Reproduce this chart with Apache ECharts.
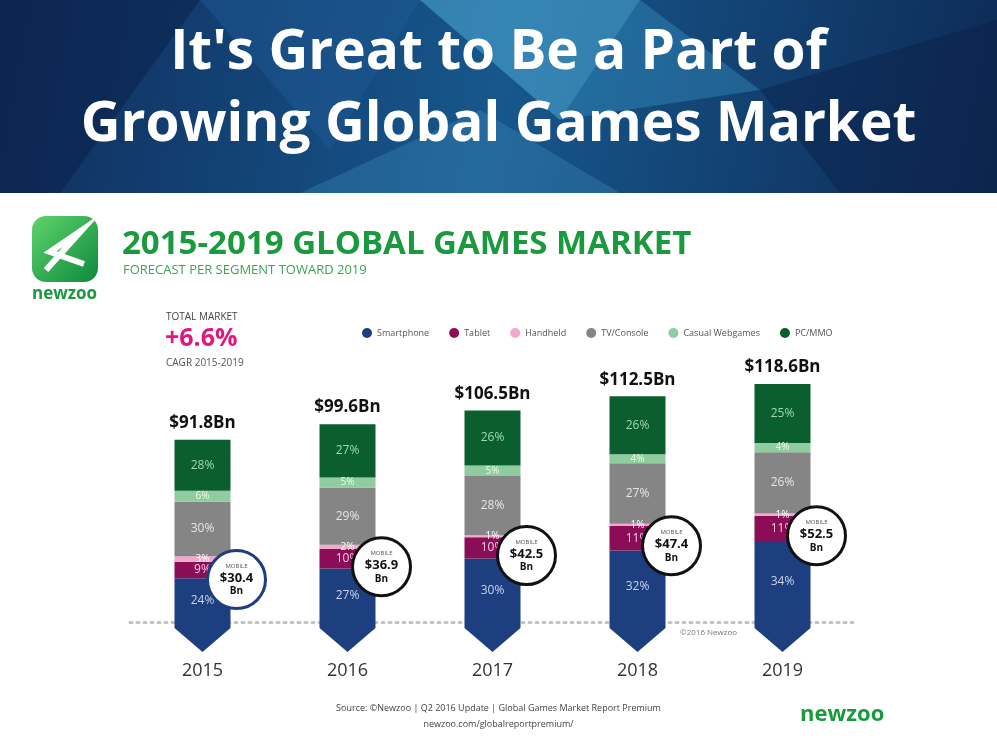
<!DOCTYPE html>
<html>
<head>
<meta charset="utf-8">
<script src="https://cdn.jsdelivr.net/npm/echarts@6/dist/echarts.min.js"></script>
<style>
  html, body { margin: 0; padding: 0; background: #fff; }
  #chart { width: 997px; height: 748px; }
</style>
</head>
<body>
<div id="chart"></div>
<script>
// values
const years = ['2015', '2016', '2017', '2018', '2019']
const totals = [91.8, 99.6, 106.5, 112.5, 118.6]
const mobile = [30.4, 36.9, 42.5, 47.4, 52.5]
const smartphonePct = [24, 27, 30, 32, 34]
const tabletPct = [9, 10, 10, 11, 11]
const handheldPct = [3, 2, 1, 1, 1]
const consolePct = [30, 29, 28, 27, 26]
const casualPct = [6, 5, 5, 4, 4]
const pcPct = [28, 27, 26, 26, 25]

const segments = [
  { name: 'Smartphone', pct: smartphonePct, color: '#1d3f7f', text: '#c9d3ea' },
  { name: 'Tablet', pct: tabletPct, color: '#8c0d57', text: '#f3c9df' },
  { name: 'Handheld', pct: handheldPct, color: '#f2a7cb', text: '#ffffff' },
  { name: 'TV/Console', pct: consolePct, color: '#858585', text: '#e6e6e6' },
  { name: 'Casual Webgames', pct: casualPct, color: '#8fcc9e', text: '#eefaf0' },
  { name: 'PC/MMO', pct: pcPct, color: '#0b5e2e', text: '#9fd9ae' }
]

const chart = echarts.init(document.getElementById('chart'))
const FONT = '"Open Sans", "Noto Sans", sans-serif'

const barSeries = segments.map((s, si) => ({
  name: s.name,
  type: 'bar',
  stack: 'total',
  barWidth: 56,
  itemStyle: { color: s.color },
  data: totals.map((t, i) => +(t * s.pct[i] / 100).toFixed(2)),
  label: {
    show: true,
    position: 'inside',
    color: s.text,
    fontFamily: FONT,
    fontSize: s.pct[0] <= 6 ? 10 : 12,
    formatter: p => s.pct[p.dataIndex] + '%'
  }
}))

// total labels above the stack
barSeries.push({
  name: 'totalLabel',
  type: 'bar',
  stack: 'total',
  barWidth: 56,
  itemStyle: { color: 'transparent' },
  data: totals.map(() => 0),
  label: {
    show: true,
    position: 'top',
    distance: 8,
    color: '#111',
    fontFamily: FONT,
    fontWeight: 'bold',
    fontSize: 17,
    formatter: p => '$' + totals[p.dataIndex] + 'Bn'
  }
})

const option = {
  animation: false,
  backgroundColor: '#fff',
  grid: { left: 130, right: 142, top: 324, bottom: 126 },
  legend: {
    data: segments.map(s => s.name),
    left: 357, top: 323,
    icon: 'circle', itemWidth: 10, itemHeight: 10, itemGap: 20,
    textStyle: { fontSize: 9, color: '#555', fontFamily: FONT }
  },
  xAxis: {
    type: 'category',
    data: years,
    axisTick: { show: false },
    axisLine: { lineStyle: { color: '#c4c4c4', type: [2, 5], width: 3 } },
    axisLabel: { margin: 40, fontSize: 18, color: '#333', fontFamily: FONT }
  },
  yAxis: { type: 'value', min: 0, max: 150, show: false, splitLine: { show: false } },
  series: barSeries.concat([
    {
      name: 'arrow',
      type: 'custom',
      z: 1,
      data: years.map((y, i) => [i, 0]),
      renderItem: (params, api) => {
        const p = api.coord([api.value(0), 0])
        const w = 28
        return {
          type: 'polygon',
          shape: { points: [[p[0] - w, p[1]], [p[0] + w, p[1]], [p[0] + w, p[1] + 6], [p[0], p[1] + 30], [p[0] - w, p[1] + 6]] },
          style: { fill: '#1d3f7f' }
        }
      }
    },
    {
      name: 'mobile',
      type: 'scatter',
      z: 5,
      symbol: 'circle',
      symbolSize: 58,
      symbolOffset: [34, 18],
      data: mobile.map((m, i) => ({
        value: [i, m],
        itemStyle: { borderColor: i === 0 ? '#1d3f7f' : '#111' }
      })),
      itemStyle: { color: '#fff', borderWidth: 3, opacity: 1 },
      label: {
        show: true,
        position: 'inside',
        fontFamily: FONT,
        formatter: p => '{s|MOBILE}\n{v|$' + mobile[p.dataIndex] + '}\n{b|Bn}',
        rich: {
          s: { fontSize: 6, color: '#555', lineHeight: 9 },
          v: { fontSize: 13, fontWeight: 'bold', color: '#111', lineHeight: 15 },
          b: { fontSize: 10, fontWeight: 'bold', color: '#111', lineHeight: 12 }
        }
      }
    }
  ]),
  graphic: [
    {
      type: 'rect', shape: { x: 0, y: 0, width: 997, height: 193 },
      style: { fill: new echarts.graphic.LinearGradient(0, 0, 1, 1, [
        { offset: 0, color: '#0f2d5c' }, { offset: 0.5, color: '#17578c' }, { offset: 1, color: '#0d2a55' }]) }
    },
    { type: 'polygon', shape: { points: [[420, 0], [640, 0], [560, 120]] }, style: { fill: 'rgba(90,190,230,0.45)' } },
    { type: 'polygon', shape: { points: [[560, 120], [640, 0], [760, 90]] }, style: { fill: 'rgba(60,160,210,0.35)' } },
    { type: 'polygon', shape: { points: [[0, 0], [200, 0], [60, 193], [0, 193]] }, style: { fill: 'rgba(10,30,70,0.5)' } },
    { type: 'polygon', shape: { points: [[760, 90], [997, 20], [997, 193], [840, 193]] }, style: { fill: 'rgba(10,30,70,0.45)' } },
    { type: 'polygon', shape: { points: [[300, 193], [480, 110], [620, 193]] }, style: { fill: 'rgba(70,150,200,0.3)' } },
    { type: 'polygon', shape: { points: [[200, 0], [420, 0], [330, 150]] }, style: { fill: 'rgba(30,90,150,0.45)' } },
    {
      type: 'text', left: 'center', top: 26,
      style: { text: "It's Great to Be a Part of", fill: '#fff', font: 'bold 55px "Open Sans", sans-serif' }
    },
    {
      type: 'text', left: 'center', top: 98,
      style: { text: 'Growing Global Games Market', fill: '#fff', font: 'bold 55px "Open Sans", sans-serif' }
    },
    // logo
    {
      type: 'rect', shape: { x: 32, y: 216, width: 66, height: 66, r: 14 },
      style: { fill: new echarts.graphic.LinearGradient(0, 0, 1, 1, [
        { offset: 0, color: '#5fd36c' }, { offset: 1, color: '#0d8a3c' }]) }
    },
    {
      type: 'polyline', shape: { points: [[46, 270], [82, 230], [50, 252], [84, 264]] },
      style: { stroke: '#fff', lineWidth: 6, fill: null }
    },
    { type: 'text', left: 32, top: 286, style: { text: 'newzoo', fill: '#1a9a3e', font: 'bold 17px "Open Sans", sans-serif' } },
    { type: 'text', left: 122, top: 228, style: { text: '2015-2019 GLOBAL GAMES MARKET', fill: '#1a9a3e', font: 'bold 33px "Open Sans", sans-serif' } },
    { type: 'text', left: 123, top: 264, style: { text: 'FORECAST PER SEGMENT TOWARD 2019', fill: '#3aa552', font: '13px "Open Sans", sans-serif' } },
    { type: 'text', left: 166, top: 312, style: { text: 'TOTAL MARKET', fill: '#444', font: '10px "Open Sans", sans-serif' } },
    { type: 'text', left: 165, top: 326, style: { text: '+6.6%', fill: '#e0177f', font: 'bold 25px "Open Sans", sans-serif' } },
    { type: 'text', left: 166, top: 358, style: { text: 'CAGR 2015-2019', fill: '#555', font: '10px "Open Sans", sans-serif' } },
    { type: 'text', left: 680, top: 629, style: { text: '©2016 Newzoo', fill: '#777', font: '8px "Open Sans", sans-serif' } },
    {
      type: 'text', left: 'center', top: 704,
      style: { text: 'Source: ©Newzoo | Q2 2016 Update | Global Games Market Report Premium', fill: '#444', font: '9px "Open Sans", sans-serif' }
    },
    {
      type: 'text', left: 'center', top: 720,
      style: { text: 'newzoo.com/globalreportpremium/', fill: '#444', font: '9px "Open Sans", sans-serif' }
    },
    { type: 'text', left: 800, top: 704, style: { text: 'newzoo', fill: '#1a9a3e', font: 'bold 22px "Open Sans", sans-serif' } }
  ]
}

chart.setOption(option)
</script>
</body>
</html>
